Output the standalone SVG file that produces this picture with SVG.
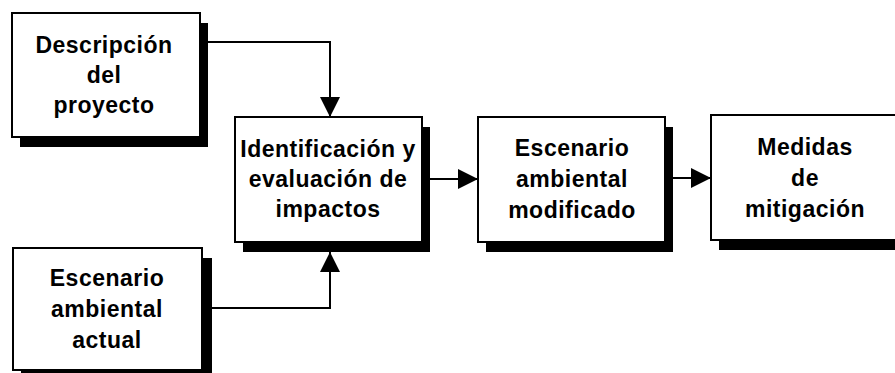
<svg xmlns="http://www.w3.org/2000/svg" width="895" height="373" viewBox="0 0 895 373">
<defs>
<style>
.shadow{fill:#000}
.box{fill:#fff;stroke:#000;stroke-width:2}
.lbl{font-family:"Liberation Sans",Arial,sans-serif;font-weight:bold;font-size:23px;letter-spacing:0.5px;text-anchor:middle;fill:#000}
.conn{fill:none;stroke:#000;stroke-width:2}
</style>
<marker id="ah" markerUnits="userSpaceOnUse" markerWidth="22" markerHeight="22" viewBox="0 0 22 22" refX="20" refY="11" orient="auto">
<path d="M0,1 L20,11 L0,21 Z" fill="#000"/>
</marker>
</defs>
<rect width="895" height="373" fill="#fff"/>
<g id="connectors">
<path class="conn" d="M200,42 H330 V117" marker-end="url(#ah)"/>
<path class="conn" d="M202,308 H330 V252" marker-end="url(#ah)"/>
<path class="conn" d="M430,179 H478" marker-end="url(#ah)"/>
<path class="conn" d="M673,178 H711" marker-end="url(#ah)"/>
</g>
<g id="descripcion">
<rect class="shadow" x="20" y="23" width="188" height="124"/>
<rect class="box" x="12" y="13" width="188" height="124"/>
<text class="lbl" x="104" y="53">Descripción</text>
<text class="lbl" x="104" y="83">del</text>
<text class="lbl" x="104" y="113">proyecto</text>
</g>
<g id="escenario-actual">
<rect class="shadow" x="21" y="258" width="191" height="122"/>
<rect class="box" x="13" y="248" width="189" height="122"/>
<text class="lbl" x="107" y="286">Escenario</text>
<text class="lbl" x="107" y="317">ambiental</text>
<text class="lbl" x="107" y="348">actual</text>
</g>
<g id="identificacion">
<rect class="shadow" x="243" y="127" width="187" height="125"/>
<rect class="box" x="235" y="117" width="187" height="125"/>
<text class="lbl" x="328" y="157">Identificación y</text>
<text class="lbl" x="328" y="187">evaluación de</text>
<text class="lbl" x="328" y="217">impactos</text>
</g>
<g id="escenario-modificado">
<rect class="shadow" x="486" y="127" width="187" height="125"/>
<rect class="box" x="478" y="117" width="187" height="125"/>
<text class="lbl" x="572" y="156">Escenario</text>
<text class="lbl" x="572" y="187">ambiental</text>
<text class="lbl" x="572" y="218">modificado</text>
</g>
<g id="medidas">
<rect class="shadow" x="719" y="125" width="187" height="125"/>
<rect class="box" x="711" y="115" width="187" height="125"/>
<text class="lbl" x="805" y="155">Medidas</text>
<text class="lbl" x="805" y="186">de</text>
<text class="lbl" x="805" y="217">mitigación</text>
</g>
</svg>
